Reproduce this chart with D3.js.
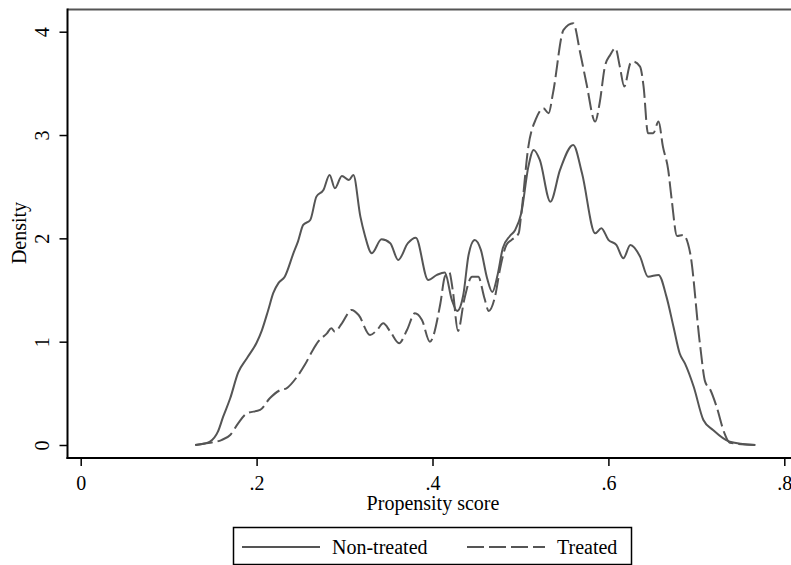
<!DOCTYPE html>
<meta charset='utf-8'>
<html>
  <head>
    <script src="https://d3js.org/d3.v7.min.js"></script>
    <style>
      body { margin: 0; background: #fff; }
      text { font-family: "Liberation Serif", "DejaVu Serif", serif; fill: #000; }
    </style>
  </head>
  <body>
    <div id="chart"></div>
    <script>
        // density curves: propensity score, density
        var nonTreatedX = [0.130,0.141,0.147,0.156,0.162,0.170,0.179,0.189,0.200,0.206,0.213,0.219,0.225,0.232,0.242,0.247,0.253,0.261,0.268,0.276,0.283,0.289,0.297,0.305,0.310,0.318,0.323,0.331,0.342,0.352,0.361,0.372,0.381,0.395,0.405,0.414,0.422,0.428,0.435,0.441,0.448,0.455,0.462,0.468,0.474,0.480,0.488,0.494,0.501,0.509,0.515,0.522,0.534,0.545,0.560,0.570,0.585,0.592,0.600,0.609,0.617,0.625,0.636,0.645,0.657,0.666,0.674,0.681,0.687,0.697,0.708,0.719,0.738,0.767]
        var nonTreatedY = [0.000,0.015,0.032,0.129,0.274,0.452,0.700,0.840,0.990,1.110,1.300,1.472,1.569,1.629,1.859,1.968,2.130,2.178,2.404,2.469,2.614,2.485,2.604,2.565,2.614,2.210,2.033,1.856,1.991,1.953,1.791,1.953,2.007,1.597,1.646,1.670,1.404,1.297,1.452,1.839,1.985,1.888,1.617,1.481,1.646,1.907,2.023,2.081,2.246,2.694,2.856,2.759,2.355,2.662,2.904,2.630,2.049,2.098,1.985,1.936,1.807,1.936,1.823,1.629,1.646,1.436,1.145,0.888,0.790,0.564,0.242,0.145,0.032,0.000]

        var treatedX = [0.131,0.143,0.160,0.170,0.179,0.189,0.204,0.215,0.227,0.234,0.246,0.255,0.264,0.270,0.280,0.285,0.289,0.297,0.308,0.316,0.329,0.337,0.344,0.352,0.362,0.371,0.380,0.388,0.397,0.409,0.414,0.419,0.423,0.429,0.436,0.445,0.452,0.459,0.464,0.471,0.477,0.484,0.490,0.498,0.501,0.509,0.518,0.526,0.532,0.537,0.549,0.560,0.568,0.575,0.585,0.590,0.596,0.602,0.608,0.613,0.618,0.625,0.628,0.636,0.640,0.645,0.651,0.657,0.662,0.668,0.672,0.678,0.685,0.693,0.704,0.710,0.716,0.723,0.732,0.738,0.767]
        var treatedY = [0.000,0.016,0.048,0.097,0.210,0.307,0.339,0.452,0.532,0.549,0.661,0.778,0.920,1.000,1.081,1.130,1.097,1.178,1.307,1.258,1.065,1.113,1.178,1.097,0.985,1.113,1.275,1.210,1.000,1.372,1.629,1.675,1.500,1.104,1.404,1.629,1.629,1.423,1.297,1.433,1.713,1.936,1.985,2.049,2.243,2.888,3.163,3.259,3.211,3.405,4.017,4.082,3.792,3.501,3.130,3.308,3.662,3.775,3.840,3.662,3.469,3.695,3.711,3.662,3.469,3.017,3.017,3.130,2.888,2.662,2.372,2.023,2.033,1.856,0.985,0.613,0.532,0.371,0.113,0.022,0.000]

        var xTicks = [0, 0.2, 0.4, 0.6, 0.8]
        var yTicks = [0, 1, 2, 3, 4]
        var xTitle = 'Propensity score'
        var yTitle = 'Density'
        var seriesNames = ['Non-treated', 'Treated']

        var W = 791, H = 565
        var axisLeftX = 67.5, axisBottomY = 458, frameTop = 9.5
        var lineColor = '#555'

        var svg = d3.select('#chart').append('svg')
            .attr('width', W)
            .attr('height', H)

        // Scales
        var xScale = d3.scaleLinear().domain([0, 0.8]).range([80.7, 784.3])
        var yScale = d3.scaleLinear().domain([0, 4]).range([445, 31.7])

        // frame: grey top line, black axes
        svg.append('line')
            .attr('x1', axisLeftX).attr('x2', W)
            .attr('y1', frameTop).attr('y2', frameTop)
            .attr('stroke', lineColor).attr('stroke-width', 2)
        svg.append('line')
            .attr('x1', axisLeftX).attr('x2', axisLeftX)
            .attr('y1', frameTop - 1).attr('y2', axisBottomY + 1)
            .attr('stroke', '#000').attr('stroke-width', 2)
        svg.append('line')
            .attr('x1', axisLeftX - 1).attr('x2', W)
            .attr('y1', axisBottomY).attr('y2', axisBottomY)
            .attr('stroke', '#000').attr('stroke-width', 2)

        var fmtX = function (d) { return d === 0 ? '0' : d3.format('.1f')(d).replace(/^0/, '') }
        var fmtY = d3.format('d')

        // X axis
        var xAxis = d3.axisBottom(xScale).tickValues(xTicks).tickFormat(fmtX).tickSize(8).tickPadding(10)
        var gx = svg.append('g')
            .attr('transform', 'translate(0,' + axisBottomY + ')')
            .call(xAxis)
        gx.select('.domain').remove()
        gx.selectAll('.tick line').attr('stroke', '#000').attr('stroke-width', 1.5)
        gx.selectAll('.tick text')
            .attr('font-family', '"Liberation Serif", serif')
            .attr('font-size', 20)
            .attr('dy', 0).attr('y', 32)

        // Y axis, labels turned on their side
        var yAxis = d3.axisLeft(yScale).tickValues(yTicks).tickFormat(fmtY).tickSize(8)
        var gy = svg.append('g')
            .attr('transform', 'translate(' + axisLeftX + ',0)')
            .call(yAxis)
        gy.select('.domain').remove()
        gy.selectAll('.tick line').attr('stroke', '#000').attr('stroke-width', 1.5)
        gy.selectAll('.tick text')
            .attr('font-family', '"Liberation Serif", serif')
            .attr('font-size', 20)
            .attr('transform', 'rotate(-90)')
            .attr('text-anchor', 'middle')
            .attr('x', 0).attr('dy', 0).attr('y', -19)

        // axis titles
        svg.append('text')
            .attr('x', 433).attr('y', 510)
            .attr('text-anchor', 'middle')
            .style('font-size', '20px')
            .text(xTitle)
        svg.append('text')
            .attr('transform', 'translate(26,233) rotate(-90)')
            .attr('text-anchor', 'middle')
            .style('font-size', '20px')
            .text(yTitle)

        // curves
        var line = d3.line()
            .x(function (d) { return xScale(d[0]) })
            .y(function (d) { return yScale(d[1]) })
            .curve(d3.curveMonotoneX)

        svg.append('path')
            .datum(d3.zip(nonTreatedX, nonTreatedY))
            .attr('d', line)
            .attr('fill', 'none')
            .attr('stroke', lineColor)
            .attr('stroke-width', 2)
        svg.append('path')
            .datum(d3.zip(treatedX, treatedY))
            .attr('d', line)
            .attr('fill', 'none')
            .attr('stroke', lineColor)
            .attr('stroke-width', 2)
            .attr('stroke-dasharray', '17,5')

        // legend
        var lg = svg.append('g')
        lg.append('rect')
            .attr('x', 233.5).attr('y', 527.5)
            .attr('width', 398).attr('height', 37)
            .attr('fill', 'none').attr('stroke', '#000').attr('stroke-width', 1.5)
        lg.append('line')
            .attr('x1', 242).attr('x2', 320).attr('y1', 547).attr('y2', 547)
            .attr('stroke', lineColor).attr('stroke-width', 2)
        lg.append('text')
            .attr('x', 332).attr('y', 554)
            .style('font-size', '20px')
            .text(seriesNames[0])
        lg.append('line')
            .attr('x1', 467).attr('x2', 545).attr('y1', 547).attr('y2', 547)
            .attr('stroke', lineColor).attr('stroke-width', 2)
            .attr('stroke-dasharray', '17,5')
        lg.append('text')
            .attr('x', 557).attr('y', 554)
            .style('font-size', '20px')
            .text(seriesNames[1])
    </script>
  </body>
</html>
